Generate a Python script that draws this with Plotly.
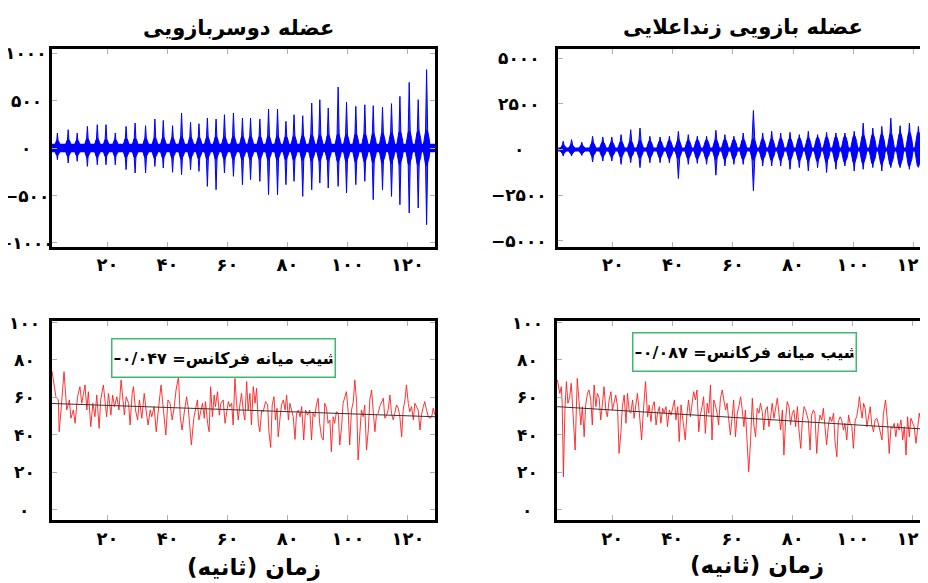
import plotly.graph_objects as go

# ---------------- data ----------------
# Top-left: biceps EMG bursts (time s, positive peak, negative peak, burst body amplitude)
bic_t = [3.3, 6.9, 9.9, 13.3, 16.6, 19.5, 22.6, 26.2, 29.2, 32.7, 35.8, 38.6, 41.7, 44.7, 47.7,
         50.5, 53.3, 56.2, 59.0, 62.0, 65.0, 67.7, 70.8, 73.7, 76.7, 79.5, 82.2, 85.1, 88.1, 90.8,
         93.6, 96.9, 99.7, 102.8, 105.8, 108.6, 111.7, 114.7, 117.5, 120.6, 123.6, 126.4]
bic_pos = [158, 193, 158, 228, 246, 246, 158, 228, 263, 235, 305, 291, 235, 369, 270,
           256, 316, 305, 351, 369, 316, 316, 305, 411, 411, 281, 351, 340, 474, 509,
           421, 642, 481, 439, 456, 446, 432, 467, 544, 691, 509, 825]
bic_neg = [-123, -158, -140, -193, -176, -176, -176, -228, -263, -263, -193, -211, -256, -281, -228,
           -246, -404, -439, -263, -298, -386, -333, -351, -491, -491, -386, -351, -509, -439, -369,
           -421, -404, -474, -386, -351, -544, -439, -509, -597, -684, -632, -807]
bic_body = [80, 90, 85, 100, 100, 95, 90, 105, 105, 105, 110, 110, 110, 120, 115,
            115, 120, 120, 120, 125, 125, 125, 125, 130, 130, 125, 130, 135, 140, 140,
            140, 150, 145, 150, 150, 155, 160, 165, 175, 180, 185, 190]
bic_noise = 45
bic_span = [1.5, 129.2]

# Top-right: brachioradialis EMG bursts
brd_t = [3.4, 6.2, 9.6, 13.2, 16.6, 19.6, 22.7, 25.9, 29.0, 32.3, 35.7, 38.8, 41.8, 45.1, 48.1,
         51.2, 54.3, 57.3, 60.3, 63.4, 66.8, 69.9, 72.9, 75.9, 79.0, 82.1, 85.1, 88.2, 91.2, 94.3,
         97.3, 100.4, 103.4, 106.6, 109.6, 112.6, 115.7, 118.8, 121.8, 124.6]
brd_pos = [453, 543, 398, 724, 688, 688, 815, 1086, 1177, 724, 688, 724, 996, 815, 724,
           724, 1050, 815, 724, 905, 2136, 905, 996, 905, 941, 815, 996, 815, 941, 905,
           905, 996, 1448, 1177, 1267, 1720, 1303, 1448, 1267, 1358]
brd_neg = [-362, -362, -326, -688, -634, -634, -815, -724, -996, -724, -724, -724, -1593, -815, -760,
           -815, -1412, -905, -815, -815, -2263, -905, -905, -905, -1086, -996, -1177, -996, -1267, -1086,
           -905, -1177, -1086, -996, -1177, -996, -996, -1086, -815, -905]
brd_body = [240, 260, 240, 390, 420, 420, 440, 470, 490, 490, 490, 520, 520, 520, 540,
            540, 540, 570, 570, 580, 600, 600, 610, 620, 620, 650, 650, 680, 700, 720,
            750, 780, 800, 830, 860, 900, 930, 960, 980, 980]
brd_noise = 110
brd_span = [1.7, 126.0]

# Bottom-left: biceps median frequency (Hz)
bmf_t = [1.5, 1.9, 2.8, 3.6, 3.9, 4.6, 5.5, 6.4, 7.3, 7.8, 8.6, 9.2, 10.0, 10.8, 11.4, 12.0, 12.5, 13.1,
         13.6, 14.4, 15.1, 15.8, 16.4, 17.2, 17.7, 18.6, 19.2, 19.7, 20.3, 21.1, 21.7, 22.3, 23.1, 23.8,
         24.5, 25.1, 25.6, 26.2, 27.0, 27.5, 28.2, 28.6, 29.3, 30.0, 30.6, 31.4, 32.2, 32.8, 33.5, 34.2,
         34.7, 35.5, 36.2, 36.9, 37.8, 38.6, 39.4, 40.1, 40.8, 41.5, 42.2, 42.8, 43.6, 44.2, 44.8, 45.5,
         46.3, 46.8, 47.4, 47.9, 48.7, 49.3, 49.9, 50.4, 51.1, 51.6, 52.2, 52.6, 53.3, 53.8, 54.3, 54.9,
         55.5, 55.9, 56.6, 57.2, 57.7, 58.5, 59.1, 59.6, 60.2, 60.7, 61.3, 61.8, 62.4, 62.9, 63.5, 64.1,
         64.6, 65.2, 65.7, 66.3, 66.8, 67.4, 67.9, 68.5, 69.1, 69.6, 70.2, 70.7, 71.3, 71.8, 72.6, 73.3,
         73.7, 74.3, 74.8, 75.4, 75.9, 76.4, 76.8, 77.4, 77.9, 78.5, 79.1, 79.6, 80.2, 80.7, 81.3, 81.8,
         82.4, 82.9, 83.5, 84.1, 84.6, 85.3, 85.9, 86.6, 87.3, 87.9, 88.4, 89.0, 89.5, 90.1, 90.6, 91.2,
         91.8, 92.3, 92.9, 93.4, 94.0, 94.5, 95.1, 95.6, 96.2, 96.8, 97.3, 97.9, 98.4, 99.0, 99.5, 100.1,
         100.6, 101.2, 101.8, 102.3, 102.9, 103.4, 104.0, 104.5, 105.1, 105.6, 106.2, 106.8, 107.3, 107.9,
         108.4, 109.0, 109.5, 110.1, 110.6, 111.2, 111.8, 112.3, 112.9, 113.4, 114.0, 114.5, 115.1, 115.6,
         116.2, 116.8, 117.3, 117.9, 118.4, 119.0, 119.5, 120.1, 120.6, 121.2, 121.8, 122.3, 122.9, 123.4,
         124.0, 124.5, 125.1, 125.6, 126.2, 126.8, 127.3, 127.9, 128.4, 129.0]
bmf_v = [74.0, 69.3, 60.3, 58.6, 41.6, 55.0, 73.7, 53.2, 58.6, 48.8, 53.2, 46.1, 60.3, 65.7, 56.8, 62.1, 66.6, 53.2,
         63.0, 44.3, 56.8, 49.6, 61.2, 43.4, 58.6, 66.6, 56.8, 49.6, 62.1, 50.5, 61.2, 55.0, 60.3, 53.2,
         69.3, 58.6, 50.5, 60.3, 56.8, 45.2, 62.1, 65.7, 53.2, 47.9, 58.6, 48.8, 62.1, 53.2, 45.2, 53.2,
         49.6, 55.0, 41.6, 53.2, 66.6, 53.2, 39.8, 58.6, 56.8, 47.9, 55.0, 63.9, 71.0, 49.6, 42.5, 51.5,
         60.3, 55.0, 45.2, 34.5, 48.8, 55.0, 58.6, 47.9, 53.2, 56.8, 48.8, 57.7, 46.1, 41.6, 65.7, 49.6,
         61.2, 55.0, 63.0, 50.5, 56.8, 58.6, 46.1, 52.3, 57.7, 55.0, 56.8, 45.2, 70.1, 57.7, 47.9, 56.8,
         62.1, 52.3, 47.9, 68.4, 53.2, 62.1, 45.2, 65.7, 56.8, 64.8, 46.1, 41.6, 53.2, 52.3, 57.7, 55.9,
         41.6, 33.2, 55.9, 60.3, 47.9, 54.1, 38.9, 48.8, 55.9, 58.6, 53.2, 61.2, 47.9, 56.8, 53.2, 49.6,
         37.5, 51.5, 53.2, 49.6, 55.0, 37.2, 53.2, 50.5, 53.2, 37.2, 51.5, 49.6, 55.9, 59.5, 46.1, 38.9,
         37.2, 56.8, 54.1, 46.1, 47.9, 30.9, 49.6, 46.1, 52.3, 51.5, 34.5, 44.3, 56.8, 61.2, 63.0, 52.3,
         34.5, 53.2, 57.7, 69.3, 57.7, 26.5, 43.4, 53.2, 49.6, 55.9, 31.8, 42.5, 58.6, 63.9,
         53.2, 41.6, 50.5, 51.5, 55.0, 57.7, 59.5, 48.8, 50.5, 53.2, 61.2, 51.5, 47.9, 51.5,
         55.9, 54.1, 49.6, 38.9, 53.2, 58.6, 66.6, 56.8, 52.3, 55.0, 47.9, 56.8, 55.0, 53.2,
         42.5, 50.5, 55.0, 57.7, 53.2, 49.6, 48.8, 49.6, 54.1, 50.5]
bmf_trend_t = [1.5, 129.0]
bmf_trend_v = [56.7, 49.6]
bmf_slope = -0.047

# Bottom-right: brachioradialis median frequency (Hz)
rmf_t = [1.8, 2.6, 3.1, 3.4, 3.8, 4.3, 4.8, 5.3, 5.9, 6.4, 7.0, 7.7, 8.4, 9.0, 9.6, 10.1, 10.7, 11.2,
         11.8, 12.3, 12.9, 13.4, 14.0, 14.6, 15.1, 15.7, 16.2, 16.8, 17.3, 17.9, 18.4, 19.0, 19.6, 20.1,
         20.7, 21.2, 21.8, 22.3, 22.9, 23.4, 24.0, 24.6, 25.1, 25.7, 26.2, 26.8, 27.3, 27.9, 28.4, 29.0,
         29.8, 30.4, 31.1, 31.8, 32.3, 32.9, 33.4, 34.0, 34.6, 35.1, 35.7, 36.2, 36.8, 37.3, 37.9, 38.4,
         39.0, 39.6, 40.1, 40.7, 41.2, 41.8, 42.3, 42.9, 43.8, 44.3, 44.9, 45.4, 46.0, 46.6, 47.1, 47.7,
         48.2, 48.8, 49.3, 49.9, 50.4, 51.0, 51.6, 52.1, 52.7, 53.2, 53.8, 54.3, 54.9, 55.4, 56.0, 56.6,
         57.1, 57.7, 58.2, 58.8, 59.3, 59.9, 60.4, 61.0, 61.6, 62.1, 62.7, 63.2, 63.8, 64.3, 64.9, 65.4,
         66.0, 66.6, 67.1, 67.7, 68.2, 68.8, 69.3, 69.9, 70.4, 71.0, 71.6, 72.1, 72.7, 73.2, 73.8, 74.3,
         74.9, 75.4, 76.0, 76.6, 77.1, 77.7, 78.2, 78.8, 79.3, 79.9, 80.4, 81.0, 81.6, 82.1, 82.7, 83.2,
         83.8, 84.3, 85.2, 85.8, 86.3, 86.9, 87.4, 88.0, 88.6, 89.1, 89.7, 90.2, 90.8, 91.3, 91.9, 92.4,
         93.0, 93.6, 94.1, 94.7, 95.2, 95.8, 96.3, 96.9, 97.4, 98.0, 98.6, 99.1, 99.7, 100.2, 100.8, 101.3,
         101.9, 102.2, 102.7, 103.1, 103.6, 104.1, 104.7, 105.2, 105.8, 106.3, 106.9, 107.4, 108.0, 108.6,
         109.1, 109.7, 110.2, 110.9, 111.6, 112.1, 112.7, 113.2, 113.8, 114.3, 114.9, 115.4, 116.0, 116.6,
         117.1, 117.7, 118.2, 118.8, 119.3, 119.9, 120.4, 121.0, 121.6, 122.1, 122.7, 123.2, 123.8, 124.3,
         124.8, 125.3, 126.0]
rmf_v = [69.3, 62.1, 65.7, 56.8, 17.5, 53.2, 68.4, 56.8, 60.3, 67.5, 51.5, 31.8, 70.1, 56.8, 45.2, 55.0, 38.9, 55.9,
         62.1, 63.9, 58.6, 45.2, 66.6, 55.0, 62.1, 59.5, 47.9, 56.8, 65.7, 53.2, 49.6, 58.6, 63.0, 53.2,
         58.6, 61.2, 55.0, 30.0, 40.7, 55.0, 61.2, 46.1, 62.1, 52.3, 51.5, 58.6, 48.8, 57.7, 62.1, 52.3,
         37.2, 53.2, 68.4, 49.6, 55.9, 47.0, 55.0, 57.7, 45.2, 51.5, 55.0, 46.1, 54.1, 51.5, 55.0, 44.3,
         53.2, 50.5, 55.0, 58.6, 47.9, 55.0, 36.3, 55.9, 44.3, 37.2, 51.5, 58.6, 49.6, 56.8, 63.0, 58.6,
         63.9, 41.6, 50.5, 55.0, 60.3, 40.7, 56.8, 51.5, 66.6, 37.2, 58.6, 55.9, 51.5, 45.2, 59.5, 63.9,
         58.6, 53.2, 56.8, 48.8, 39.8, 49.6, 58.6, 38.9, 51.5, 55.0, 60.3, 54.1, 44.3, 53.2, 34.5, 20.2,
         36.3, 59.5, 45.2, 38.9, 54.1, 51.5, 56.8, 52.3, 42.5, 53.2, 55.0, 44.3, 49.6, 56.8, 48.8, 53.2,
         59.5, 52.3, 42.5, 53.2, 29.1, 48.8, 57.7, 55.0, 45.2, 51.5, 53.2, 44.3, 55.0, 42.5, 32.7, 47.0,
         55.0, 53.2, 47.9, 31.8, 50.5, 53.2, 51.5, 30.0, 45.2, 50.5, 47.9, 54.1, 44.3, 34.5, 45.2, 49.6,
         47.0, 51.5, 36.3, 28.2, 47.0, 49.6, 47.9, 42.5, 46.1, 37.2, 50.5, 46.1, 44.3, 32.7, 47.9, 49.6,
         55.9, 60.3, 53.2, 48.8, 56.8, 54.1, 44.3, 49.6, 55.0, 45.2, 41.6, 47.9, 48.8, 45.2,
         41.6, 37.2, 51.5, 58.6, 45.2, 30.0, 44.3, 43.4, 46.1, 38.9, 46.1, 42.5, 47.9, 37.2,
         44.3, 29.1, 49.6, 38.9, 48.8, 46.1, 44.3, 35.4, 45.2, 51.5, 46.1, 38.9, 23.8, 44.3,
         49.6, 47.9, 51.5]
rmf_trend_t = [1.7, 126.0]
rmf_trend_v = [55.0, 42.8]
rmf_slope = -0.087

x_ticks = [20, 40, 60, 80, 100, 120]
emg1_ticks = [1000, 500, 0, -500, -1000]
emg2_ticks = [5000, 2500, 0, -2500, -5000]
mf_ticks = [100, 80, 60, 40, 20, 0]

titles = ["عضله دوسربازویی", "عضله بازویی زنداعلایی"]
x_title = "زمان (ثانیه)"
box_label = "شیب میانه فرکانس= "

# ---------------- helpers ----------------
OFF = 8                      # page offset of the figure (body margin)
W, H = 928 - OFF, 583 - OFF
FA = str.maketrans("0123456789.-", "۰۱۲۳۴۵۶۷۸۹/−")
RLM = "\u200f"


def fa(v):
    return str(v).translate(FA)


def px_x(p):
    return (p - OFF) / W


def px_y(p):
    return 1 - (p - OFF) / H


FONT = "DejaVu Sans"
BLUE = "#0000ff"

# spindle outline (relative shape of one burst envelope)
SH_X = [-1.0, -0.65, -0.3, 0.0, 0.3, 0.65, 1.0]
SH_Y = [0.0, 0.55, 0.9, 1.0, 0.9, 0.55, 0.0]


def emg_traces(t, pos, neg, body, noise, span, xa, ya, sw):
    hw = 1.25
    dx, dy, sx, sy = [], [], [], []
    for c, p, n, b in zip(t, pos, neg, body):
        dx += [c + hw * u for u in SH_X] + [c + hw * u for u in SH_X[::-1]] + [None]
        dy += [b * v for v in SH_Y] + [-b * v for v in SH_Y[::-1]] + [None]
        sx += [c - sw, c, c + sw, c, c - sw, None]
        sy += [0, p, 0, n, 0, None]
    band = go.Scatter(x=[span[0], span[1], span[1], span[0], span[0]],
                      y=[-noise, -noise, noise, noise, -noise],
                      fill="toself", fillcolor=BLUE, mode="lines", line=dict(width=0, color=BLUE),
                      xaxis=xa, yaxis=ya, hoverinfo="skip", showlegend=False)
    spk = go.Scatter(x=sx, y=sy, fill="toself", fillcolor="rgba(0,0,255,0.75)", mode="lines",
                     line=dict(width=1, color=BLUE), xaxis=xa, yaxis=ya, showlegend=False)
    dia = go.Scatter(x=dx, y=dy, fill="toself", fillcolor=BLUE, mode="lines",
                     line=dict(width=1, color=BLUE), xaxis=xa, yaxis=ya, showlegend=False)
    return [band, spk, dia]


fig = go.Figure()
for tr in emg_traces(bic_t, bic_pos, bic_neg, bic_body, bic_noise, bic_span, "x", "y", 0.45):
    fig.add_trace(tr)
for tr in emg_traces(brd_t, brd_pos, brd_neg, brd_body, brd_noise, brd_span, "x2", "y2", 0.6):
    fig.add_trace(tr)

RED = "rgba(255,30,30,0.9)"
fig.add_trace(go.Scatter(x=bmf_t, y=bmf_v, mode="lines", line=dict(color=RED, width=1),
                         xaxis="x3", yaxis="y3", showlegend=False))
fig.add_trace(go.Scatter(x=bmf_trend_t, y=bmf_trend_v, mode="lines", line=dict(color="#333333", width=1),
                         xaxis="x3", yaxis="y3", showlegend=False))
fig.add_trace(go.Scatter(x=rmf_t, y=rmf_v, mode="lines", line=dict(color=RED, width=1),
                         xaxis="x4", yaxis="y4", showlegend=False))
fig.add_trace(go.Scatter(x=rmf_trend_t, y=rmf_trend_v, mode="lines", line=dict(color="#333333", width=1),
                         xaxis="x4", yaxis="y4", showlegend=False))

tickfont = dict(family=FONT, size=18, color="black", weight="bold")


def xax(dom, rng, anchor, mirror):
    return dict(domain=dom, range=rng, anchor=anchor, showline=True, linewidth=3, linecolor="black",
                mirror=mirror, ticks="inside", ticklen=5, tickwidth=1, tickcolor="#b0b0b0",
                tickvals=x_ticks, ticktext=[fa(v) for v in x_ticks], tickfont=tickfont,
                showgrid=False, zeroline=False, ticklabelstandoff=0, ticklabeloverflow="allow")


def yax(dom, rng, anchor, mirror, vals):
    return dict(domain=dom, range=rng, anchor=anchor, showline=True, linewidth=3, linecolor="black",
                mirror=mirror, ticks="inside", ticklen=5, tickwidth=1, tickcolor="#b0b0b0",
                tickvals=vals, showticklabels=False, showgrid=False, zeroline=False)


top_dom = [px_y(246.5), px_y(48.5)]
bot_dom = [px_y(520), px_y(321)]
left_dom = [px_x(52), px_x(435)]
right_dom = [px_x(558), 1.0]

fig.update_layout(
    width=W, height=H, margin=dict(l=0, r=0, t=0, b=0),
    paper_bgcolor="white", plot_bgcolor="white", showlegend=False,
    xaxis=xax(left_dom, [1.5, 129.2], "y", "ticks"),
    yaxis=yax(top_dom, [-1037, 1048], "x", "ticks", emg1_ticks),
    xaxis2=xax(right_dom, [1.67, 125.0], "y2", "ticks"),
    yaxis2=yax(top_dom, [-5326, 5543], "x2", False, emg2_ticks),
    xaxis3=xax(left_dom, [1.5, 129.0], "y3", "ticks"),
    yaxis3=yax(bot_dom, [-5.6, 100.8], "x3", "ticks", mf_ticks),
    xaxis4=xax([px_x(557), 1.0], [1.67, 125.0], "y4", "ticks"),
    yaxis4=yax(bot_dom, [-5.6, 100.8], "x4", False, mf_ticks),
)

ann = []
labfont = dict(family=FONT, size=17, color="black", weight="bold")
for yref, vals, xc in [("y", emg1_ticks, 26), ("y2", emg2_ticks, 519),
                       ("y3", mf_ticks, 24), ("y4", mf_ticks, 527)]:
    for v in vals:
        ann.append(dict(x=px_x(xc), xref="paper", y=v, yref=yref, text=fa(v), showarrow=False,
                        xanchor="center", yanchor="middle", font=labfont))

titlefont = dict(family=FONT, size=21, color="black", weight="bold")
ann.append(dict(x=px_x(238), y=px_y(28), xref="paper", yref="paper", text=titles[0], showarrow=False,
                xanchor="center", yanchor="middle", font=titlefont))
ann.append(dict(x=px_x(743), y=px_y(27), xref="paper", yref="paper", text=titles[1], showarrow=False,
                xanchor="center", yanchor="middle", font=titlefont))

xtfont = dict(family=FONT, size=23, color="black", weight="bold")
for xc, yc in [(254, 567), (757, 565)]:
    ann.append(dict(x=px_x(xc), y=px_y(yc), xref="paper", yref="paper", text=RLM + x_title + RLM,
                    showarrow=False, xanchor="center", yanchor="middle", font=xtfont))

boxfont = dict(family=FONT, size=16, color="black", weight="bold")
for (xc, yc), s in zip([(223.5, 358), (744, 351.5)], [bmf_slope, rmf_slope]):
    txt = RLM + box_label + fa(abs(s)) + "−" + RLM
    ann.append(dict(x=px_x(xc), y=px_y(yc), xref="paper", yref="paper", text=txt, showarrow=False,
                    xanchor="center", yanchor="middle", font=boxfont, bgcolor="white",
                    bordercolor="#3dba6e", borderwidth=1.5, borderpad=2, width=218, height=33))

fig.update_layout(annotations=ann)
fig.write_html("out.html")
